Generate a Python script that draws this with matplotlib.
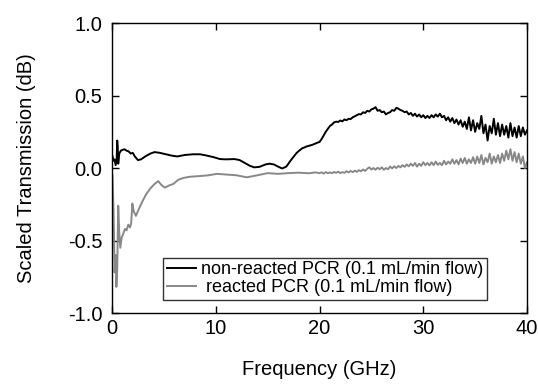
import matplotlib
matplotlib.use('Agg')
import matplotlib.pyplot as plt

plt.rcParams['font.family'] = ['Liberation Sans', 'DejaVu Sans']
plt.rcParams['axes.unicode_minus'] = False

# non-reacted PCR (black)
freq_black = [0.05, 0.15, 0.25, 0.35, 0.45, 0.5, 0.55, 0.6, 0.7, 0.85, 1.0, 1.2, 1.4, 1.6, 1.8,
              2.0, 2.2, 2.5, 2.8, 3.2, 3.7, 4.1, 4.6, 5.2, 5.8, 6.3, 7.0, 7.8, 8.5, 9.2, 9.8,
              10.4, 11.0, 11.8, 12.3, 12.8, 13.3, 13.7, 14.2, 14.8, 15.2, 15.6, 16.0, 16.4,
              16.8, 17.3, 17.8, 18.3, 18.8, 19.3, 19.8,
              20.0, 20.2, 20.4, 20.6, 20.8, 21.0, 21.2, 21.4, 21.6, 21.8, 22.0, 22.2, 22.4,
              22.6, 22.8, 23.0, 23.2, 23.4, 23.6, 23.8, 24.0, 24.2, 24.4, 24.6, 24.8, 25.0,
              25.2, 25.4, 25.6, 25.8, 26.0, 26.2, 26.4, 26.6, 26.8, 27.0, 27.2, 27.4, 27.6,
              27.8, 28.0, 28.2, 28.4, 28.6, 28.8, 29.0, 29.2, 29.4, 29.6, 29.8, 30.0, 30.2,
              30.4, 30.6, 30.8, 31.0, 31.2, 31.4, 31.6, 31.8, 32.0, 32.2, 32.4, 32.6, 32.8,
              33.0, 33.2, 33.4, 33.6, 33.8, 34.0, 34.2, 34.4, 34.6, 34.8, 35.0, 35.2, 35.4,
              35.6, 35.8, 36.0, 36.2, 36.4, 36.6, 36.8, 37.0, 37.2, 37.4, 37.6, 37.8, 38.0,
              38.2, 38.4, 38.6, 38.8, 39.0, 39.2, 39.4, 39.6, 39.8, 40.0]
trans_black = [0.08, 0.05, 0.06, 0.02, 0.06, 0.19, 0.15, 0.03, 0.10, 0.12, 0.125, 0.13, 0.12,
               0.115, 0.10, 0.105, 0.08, 0.055, 0.06, 0.08, 0.10, 0.11, 0.105, 0.095, 0.085,
               0.08, 0.09, 0.095, 0.095, 0.085, 0.075, 0.062, 0.06, 0.062, 0.055, 0.035,
               0.015, 0.005, 0.008, 0.025, 0.03, 0.025, 0.01, -0.003, 0.01, 0.06, 0.105,
               0.135, 0.15, 0.16, 0.175,
               0.18, 0.20, 0.225, 0.25, 0.27, 0.29, 0.30, 0.315, 0.32, 0.318, 0.328, 0.322,
               0.335, 0.33, 0.34, 0.338, 0.35, 0.357, 0.365, 0.372, 0.37, 0.385, 0.38, 0.395,
               0.39, 0.405, 0.41, 0.42, 0.395, 0.40, 0.385, 0.39, 0.37, 0.38, 0.385, 0.40,
               0.395, 0.415, 0.41, 0.40, 0.395, 0.385, 0.39, 0.37, 0.38, 0.36, 0.375, 0.355,
               0.37, 0.35, 0.365, 0.345, 0.36, 0.345, 0.365, 0.35, 0.37, 0.355, 0.375, 0.35,
               0.36, 0.33, 0.35, 0.32, 0.345, 0.31, 0.335, 0.30, 0.33, 0.285, 0.32, 0.27,
               0.35, 0.26, 0.33, 0.25, 0.31, 0.27, 0.36, 0.24, 0.30, 0.19, 0.29, 0.24, 0.34,
               0.23, 0.31, 0.22, 0.30, 0.23, 0.29, 0.21, 0.31, 0.22, 0.28, 0.21, 0.29, 0.22,
               0.28, 0.23, 0.26]

# reacted PCR (gray)
freq_gray = [0.05, 0.15, 0.25, 0.35, 0.42, 0.5, 0.6, 0.7, 0.8, 0.93, 1.1, 1.25, 1.4, 1.57,
             1.73, 1.85, 1.96, 2.1, 2.3, 2.6, 3.0, 3.3, 3.7, 4.1, 4.45, 4.8, 5.1, 5.5, 5.9,
             6.4, 6.9, 7.5, 8.5, 9.3, 10.1, 11.0, 12.0, 13.0, 14.0, 15.0, 16.0, 17.0, 18.0,
             19.0, 19.6,
             20.0, 20.2, 20.4, 20.6, 20.8, 21.0, 21.2, 21.4, 21.6, 21.8, 22.0, 22.2, 22.4,
             22.6, 22.8, 23.0, 23.2, 23.4, 23.6, 23.8, 24.0, 24.2, 24.4, 24.6, 24.8, 25.0,
             25.2, 25.4, 25.6, 25.8, 26.0, 26.2, 26.4, 26.6, 26.8, 27.0, 27.2, 27.4, 27.6,
             27.8, 28.0, 28.2, 28.4, 28.6, 28.8, 29.0, 29.2, 29.4, 29.6, 29.8, 30.0, 30.2,
             30.4, 30.6, 30.8, 31.0, 31.2, 31.4, 31.6, 31.8, 32.0, 32.2, 32.4, 32.6, 32.8,
             33.0, 33.2, 33.4, 33.6, 33.8, 34.0, 34.2, 34.4, 34.6, 34.8, 35.0, 35.2, 35.4,
             35.6, 35.8, 36.0, 36.2, 36.4, 36.6, 36.8, 37.0, 37.2, 37.4, 37.6, 37.8, 38.0,
             38.2, 38.4, 38.6, 38.8, 39.0, 39.2, 39.4, 39.6, 39.8, 40.0]
trans_gray = [-0.05, -0.3, -0.72, -0.6, -0.82, -0.7, -0.26, -0.45, -0.55, -0.48, -0.45, -0.42,
              -0.43, -0.39, -0.41, -0.38, -0.245, -0.30, -0.33, -0.28, -0.22, -0.18, -0.14,
              -0.11, -0.09, -0.12, -0.135, -0.12, -0.11, -0.08, -0.068, -0.06, -0.055, -0.05,
              -0.04, -0.045, -0.05, -0.064, -0.05, -0.035, -0.04, -0.035, -0.032, -0.036,
              -0.03,
              -0.035, -0.03, -0.038, -0.028, -0.035, -0.03, -0.036, -0.027, -0.033, -0.025,
              -0.035, -0.028, -0.033, -0.022, -0.03, -0.02, -0.028, -0.018, -0.026, -0.015,
              -0.022, -0.01, -0.02, -0.005, 0.005, -0.01, 0.0, -0.012, 0.002, -0.008, 0.005,
              -0.012, 0.0, -0.008, 0.01, -0.002, 0.012, 0.0, 0.015, 0.005, 0.02, 0.008,
              0.025, 0.012, 0.03, 0.015, 0.035, 0.01, 0.03, 0.015, 0.04, 0.02, 0.035, 0.018,
              0.04, 0.02, 0.045, 0.022, 0.035, 0.02, 0.05, 0.025, 0.045, 0.03, 0.06, 0.03,
              0.055, 0.025, 0.065, 0.035, 0.07, 0.03, 0.06, 0.035, 0.075, 0.03, 0.08, 0.035,
              0.09, 0.025, 0.07, 0.04, 0.10, 0.03, 0.08, 0.04, 0.09, 0.035, 0.10, 0.05, 0.12,
              0.06, 0.13, 0.05, 0.11, 0.04, 0.10, 0.03, 0.08, 0.0, 0.04]

x_ticks = [0, 10, 20, 30, 40]
y_ticks = [-1.0, -0.5, 0.0, 0.5, 1.0]

fig = plt.figure(figsize=(5.38, 3.85), dpi=100)
ax = fig.add_axes([0.2082, 0.187, 0.7714, 0.753])

ax.plot(freq_black, trans_black, color='black', lw=1.4,
        label='non-reacted PCR (0.1 mL/min flow)')
ax.plot(freq_gray, trans_gray, color='#888888', lw=1.4,
        label=' reacted PCR (0.1 mL/min flow)')

ax.set_xlim(0, 40)
ax.set_ylim(-1.0, 1.0)
ax.set_xticks(x_ticks)
ax.set_yticks(y_ticks)
ax.set_yticklabels([f'{v:.1f}' for v in y_ticks])
ax.tick_params(direction='in', top=True, right=True, length=5, width=1,
               labelsize=14.5, pad=4)
ax.tick_params(axis='y', pad=7)
for s in ax.spines.values():
    s.set_linewidth(1)

ax.set_xlabel('Frequency (GHz)', fontsize=14.5, labelpad=16)
ax.set_ylabel('Scaled Transmission (dB)', fontsize=14.5, labelpad=23)

leg = ax.legend(loc='lower left', bbox_to_anchor=(0.124, 0.045), borderaxespad=0,
                fontsize=13, frameon=True, fancybox=False, handlelength=1.6,
                handletextpad=0.3, borderpad=0.2, labelspacing=0.05)
leg.get_frame().set_edgecolor('black')
leg.get_frame().set_linewidth(1)

fig.savefig('out.png', dpi=100)
